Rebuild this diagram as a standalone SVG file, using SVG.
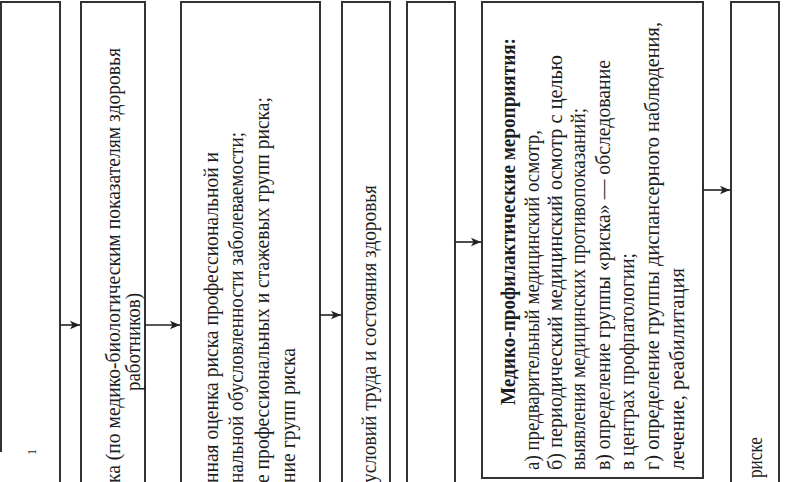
<svg xmlns="http://www.w3.org/2000/svg" width="785" height="482" viewBox="0 0 785 482">
<style>
.box{fill:#fff;stroke:#333;stroke-width:2}
.t{font-family:"Liberation Serif","Times New Roman",serif;font-size:21.5px;fill:#1e1e1e}
.m{font-size:20px}
.b{font-weight:bold}
.c{stroke:#222;stroke-width:1.6;fill:none}
</style>
<defs>
<marker id="ah" markerUnits="userSpaceOnUse" markerWidth="12" markerHeight="10" refX="10" refY="5" orient="auto">
<path d="M0,0.8 L10,5 L0,9.2 L2.5,5 Z" fill="#222"/>
</marker>
</defs>
<rect width="785" height="482" fill="#fff"/>
<g id="node1">
<path class="box" d="M1,452 V2 H60 V490" fill="none"/>
<text class="t" style="font-size:13px" transform="translate(36,452) rotate(-90)" text-anchor="middle">1</text>
</g>
<g id="node2">
<rect class="box" x="81" y="2" width="64" height="500"/>
<text class="t" transform="translate(120,483) rotate(-90)" textLength="435" lengthAdjust="spacingAndGlyphs">ка (по медико-биологическим показателям здоровья</text>
<text class="t" transform="translate(140,342) rotate(-90)" text-anchor="middle" textLength="98" lengthAdjust="spacingAndGlyphs">работников)</text>
</g>
<g id="node3">
<rect class="box" x="181" y="2" width="139" height="500"/>
<text class="t" transform="translate(218,483) rotate(-90)" textLength="331" lengthAdjust="spacingAndGlyphs">нная оценка риска профессиональной и</text>
<text class="t" transform="translate(243,483) rotate(-90)" textLength="351" lengthAdjust="spacingAndGlyphs">нальной обусловленности заболеваемости;</text>
<text class="t" transform="translate(269,483) rotate(-90)" textLength="386" lengthAdjust="spacingAndGlyphs">е профессиональных и стажевых групп риска;</text>
<text class="t" transform="translate(295,483) rotate(-90)" textLength="135" lengthAdjust="spacingAndGlyphs">ние групп риска</text>
</g>
<g id="node4">
<rect class="box" x="342" y="2" width="48" height="500"/>
<text class="t" transform="translate(376,483) rotate(-90)" textLength="298" lengthAdjust="spacingAndGlyphs">условий труда и состояния здоровья</text>
</g>
<g id="node5">
<rect class="box" x="407" y="2" width="48" height="500"/>
</g>
<g id="node6">
<rect class="box" x="482" y="2" width="221" height="476"/>
<text class="t m b" transform="translate(515,405) rotate(-90)" textLength="367" lengthAdjust="spacingAndGlyphs">Медико-профилактические мероприятия:</text>
<text class="t m" transform="translate(539,470) rotate(-90)" textLength="340" lengthAdjust="spacingAndGlyphs">а) предварительный медицинский осмотр,</text>
<text class="t m" transform="translate(562,470) rotate(-90)" textLength="415" lengthAdjust="spacingAndGlyphs">б) периодический медицинский осмотр с целью</text>
<text class="t m" transform="translate(585,470) rotate(-90)" textLength="362" lengthAdjust="spacingAndGlyphs">выявления медицинских противопоказаний;</text>
<text class="t m" transform="translate(610,470) rotate(-90)" textLength="410" lengthAdjust="spacingAndGlyphs">в) определение группы «риска» — обследование</text>
<text class="t m" transform="translate(634,470) rotate(-90)" textLength="217" lengthAdjust="spacingAndGlyphs">в центрах профпатологии;</text>
<text class="t m" transform="translate(659,470) rotate(-90)" textLength="448" lengthAdjust="spacingAndGlyphs">г) определение группы диспансерного наблюдения,</text>
<text class="t m" transform="translate(684,470) rotate(-90)" textLength="202" lengthAdjust="spacingAndGlyphs">лечение, реабилитация</text>
</g>
<g id="node7">
<rect class="box" x="731" y="2" width="48" height="500"/>
<text class="t" transform="translate(762,478) rotate(-90)" textLength="41" lengthAdjust="spacingAndGlyphs">риске</text>
</g>
<g id="connectors">
<line class="c" x1="60" y1="325" x2="80" y2="325" marker-end="url(#ah)"/>
<line class="c" x1="145" y1="325" x2="180" y2="325" marker-end="url(#ah)"/>
<line class="c" x1="320" y1="315" x2="341" y2="315" marker-end="url(#ah)"/>
<line class="c" x1="455" y1="242" x2="481" y2="242" marker-end="url(#ah)"/>
<line class="c" x1="703" y1="190" x2="730" y2="190" marker-end="url(#ah)"/>
</g>
</svg>
